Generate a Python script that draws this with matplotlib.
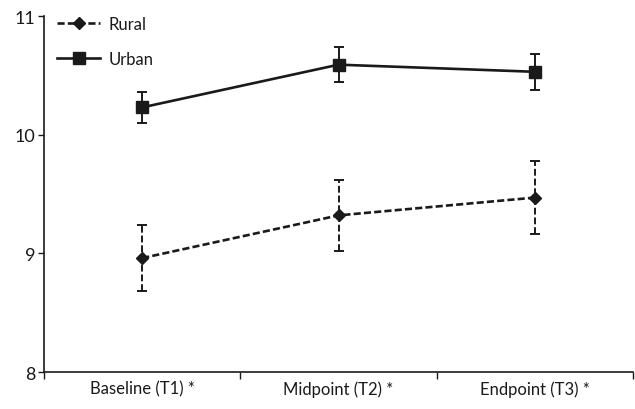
import numpy as np
import matplotlib
matplotlib.use("Agg")
import matplotlib.pyplot as plt
from matplotlib.lines import Line2D

plt.rcParams['font.family'] = ['Lato', 'DejaVu Sans']

# data
categories = ["Baseline (T1) *", "Midpoint (T2) *", "Endpoint (T3) *"]
rural = [8.96, 9.32, 9.47]
rural_err = [0.28, 0.30, 0.31]
urban = [10.23, 10.59, 10.53]
urban_err = [0.13, 0.15, 0.15]

x = np.arange(len(categories))
col = '#1a1a1a'
dash = (0, (2.7, 1.2))

fig = plt.figure(figsize=(6.35, 4.10), dpi=100)
ax = fig.add_axes([0.0693, 0.0902, 0.9277, 0.8683])

eb_r = ax.errorbar(x, rural, yerr=rural_err, fmt='D', color=col, ls=dash,
                   lw=1.9, ms=6.5, capsize=3.5, elinewidth=1.4, capthick=1.4)
eb_r[-1][0].set_linestyle((0, (3.5, 1.5)))
ax.errorbar(x, urban, yerr=urban_err, fmt='s', color=col, ls='-',
            lw=1.9, ms=8.5, capsize=3.5, elinewidth=1.4, capthick=1.4)

ax.set_xlim(-0.5, 2.5)
ax.set_ylim(8, 11)
ax.set_yticks([8, 9, 10, 11])
ax.set_xticks([-0.5, 0.5, 1.5, 2.5])
ax.set_xticklabels([])
ax.set_xticks(x, minor=True)
ax.set_xticklabels(categories, minor=True)
ax.tick_params(axis='x', which='minor', length=0, labelsize=12, pad=6, colors=col)
ax.tick_params(axis='x', which='major', length=5, width=1, direction='out', color=col)
ax.tick_params(axis='y', length=4, width=1, direction='out', labelsize=13, color=col, labelcolor=col, pad=2)

for s in ['top', 'right']:
    ax.spines[s].set_visible(False)
for s in ['left', 'bottom']:
    ax.spines[s].set_color(col)
    ax.spines[s].set_linewidth(1.2)

handles = [Line2D([], [], color=col, ls=dash, lw=1.9, marker='D', ms=6.5),
           Line2D([], [], color=col, ls='-', lw=1.9, marker='s', ms=8.5)]
leg = ax.legend(handles, ["Rural", "Urban"], loc='upper left', frameon=False, fontsize=12,
                handlelength=2.6, labelspacing=1.15, handletextpad=0.5,
                bbox_to_anchor=(0.022, 1.0), borderpad=0, borderaxespad=0)
for t in leg.get_texts():
    t.set_color(col)

plt.savefig('out.png', dpi=100)
